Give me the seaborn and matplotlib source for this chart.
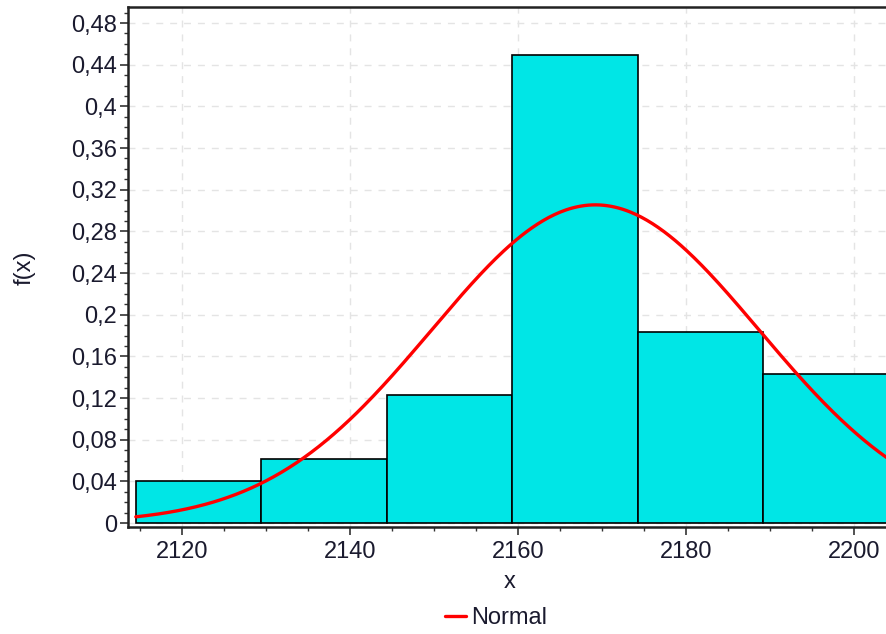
import numpy as np
import pandas as pd
import matplotlib
matplotlib.use("Agg")
import matplotlib.pyplot as plt
from matplotlib.ticker import MultipleLocator, FuncFormatter
import seaborn as sns

# Histogram: six classes of equal width, relative frequencies (counts / n)
bin_start = 2114.5
bin_width = 14.93
counts = [2, 3, 6, 22, 9, 7]
n_obs = 49
# Fitted normal distribution parameters
normal_mean = 2169.2
normal_sd = 19.5

x_ticks = [2120, 2140, 2160, 2180, 2200]
y_ticks = [0, 0.04, 0.08, 0.12, 0.16, 0.2, 0.24, 0.28, 0.32, 0.36, 0.4, 0.44, 0.48]

sns.set_style("white")
plt.rcParams["font.family"] = ["Liberation Sans", "DejaVu Sans"]

edges = [bin_start + bin_width * i for i in range(len(counts) + 1)]
mids = [(a + b) / 2 for a, b in zip(edges[:-1], edges[1:])]
rel_freq = [c / n_obs for c in counts]
hist_df = pd.DataFrame({"x": mids, "w": rel_freq})

xs = np.linspace(edges[0], edges[-1], 400)
ys = bin_width * np.exp(-0.5 * ((xs - normal_mean) / normal_sd) ** 2) / (normal_sd * np.sqrt(2 * np.pi))
curve_df = pd.DataFrame({"x": xs, "y": ys})

fig = plt.figure(figsize=(8.86, 6.34), dpi=100)
ax = fig.add_axes([128 / 886, 1 - 527 / 634, 1 - 128 / 886, (527 - 7) / 634])

sns.histplot(data=hist_df, x="x", weights="w", bins=edges, stat="count",
             color="#00E6E6", alpha=1.0, edgecolor="black", linewidth=1.2, ax=ax)
sns.lineplot(data=curve_df, x="x", y="y", color="#FF0000", linewidth=2.4,
             label="Normal", ax=ax, legend=False)

ax.set_xlim(2113.57, 2203.8)
ax.set_ylim(-0.0038, 0.4954)

ax.xaxis.set_major_locator(MultipleLocator(20))
ax.xaxis.set_minor_locator(MultipleLocator(5))
ax.yaxis.set_major_locator(MultipleLocator(0.04))
ax.yaxis.set_minor_locator(MultipleLocator(0.01))
ax.set_xticks(x_ticks)
ax.set_yticks(y_ticks)


def comma_fmt(v, pos):
    s = f"{round(v, 4):.2f}".rstrip("0").rstrip(".")
    return s.replace(".", ",")


ax.yaxis.set_major_formatter(FuncFormatter(comma_fmt))
ax.xaxis.set_major_formatter(FuncFormatter(lambda v, p: f"{int(round(v))}"))

ax.tick_params(axis="both", which="major", length=6, width=1.2, color="#333333",
               labelsize=17, labelcolor="#1a1a2e", pad=2, direction="out")
ax.tick_params(axis="both", which="minor", length=3, width=1.0, color="#333333",
               direction="out")
ax.tick_params(axis="x", which="major", pad=4)
ax.xaxis.set_ticks_position("bottom")
ax.yaxis.set_ticks_position("left")

ax.grid(True, which="major", color="#e4e4e4", linestyle=(0, (5, 5)), linewidth=1.0)
ax.set_axisbelow(True)

for side in ["left", "bottom", "top"]:
    ax.spines[side].set_visible(True)
    ax.spines[side].set_color("#222222")
    ax.spines[side].set_linewidth(1.8)
ax.spines["right"].set_visible(False)

ax.set_xlabel("x", fontsize=17, color="#1a1a2e")
ax.set_ylabel("f(x)", fontsize=17, color="#1a1a2e")
ax.xaxis.set_label_coords(0.504, -0.085)
ax.yaxis.set_label_coords(-0.122, 0.498)

handles, labels = ax.get_legend_handles_labels()
fig.legend(handles, labels, loc="center", bbox_to_anchor=(0.56, 0.025),
           frameon=False, fontsize=17, handlelength=0.9, handletextpad=0.2,
           labelcolor="#1a1a2e")

fig.savefig("out.png", dpi=100)
